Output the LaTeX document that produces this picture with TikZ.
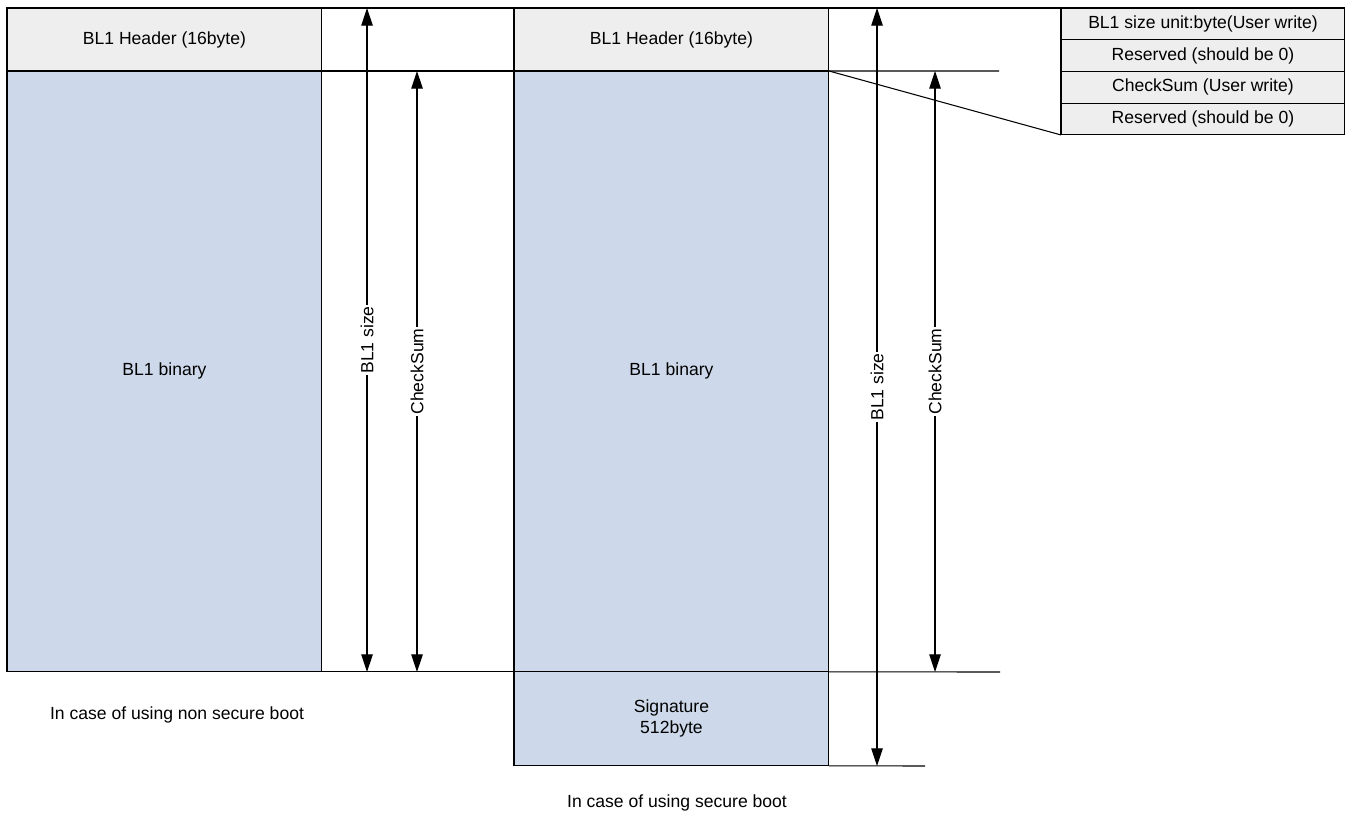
\documentclass[tikz,border=0pt]{standalone}
\usepackage{fontspec}
\setmainfont{Liberation Sans}
\usetikzlibrary{positioning, arrows.meta}
\definecolor{hdrgray}{HTML}{EEEEEE}
\definecolor{binblue}{HTML}{CDD9EA}

\begin{document}
\begin{tikzpicture}[x=0.02cm, y=-0.02cm,
    line width=0.6pt,
    >={Triangle[length=10pt, width=6.5pt]},
    node distance=0,
    font=\fontsize{10}{12}\selectfont,
    hdrbox/.style={draw, fill=hdrgray, inner sep=0, outer sep=0,
        minimum width=6.3cm, minimum height=1.26cm},
    binbox/.style={draw, fill=binblue, inner sep=0, outer sep=0,
        minimum width=6.3cm, minimum height=12.02cm},
    rowbox/.style={draw, fill=hdrgray, inner sep=0, outer sep=0,
        minimum width=5.68cm, minimum height=0.635cm},
    sizelabel/.style={fill=white, rotate=90, inner sep=1pt}
]
    \useasboundingbox (0,0) rectangle (1351,817);

    % non secure boot
    \node [hdrbox, anchor=north west] (hdrA) at (7,8) {BL1 Header (16byte)};
    \node [binbox, below=of hdrA] (binA) {BL1 binary};

    % secure boot
    \node [hdrbox, anchor=north west] (hdrB) at (514,8) {BL1 Header (16byte)};
    \node [binbox, below=of hdrB] (binB) {BL1 binary};
    \node [draw,
        fill=binblue,
        inner sep=0,
        outer sep=0,
        minimum width=6.3cm,
        minimum height=1.88cm,
        below=of binB,
        align=center
    ] (sig) {Signature\\512byte};

    % header layout
    \node [rowbox, anchor=north west] (row1) at (1061,8) {BL1 size unit:byte(User write)};
    \node [rowbox, below=of row1] (row2) {Reserved (should be 0)};
    \node [rowbox, below=of row2] (row3) {CheckSum (User write)};
    \node [rowbox, below=of row3] (row4) {Reserved (should be 0)};

    % captions
    \node (capA) at (177,715) {In case of using non secure boot};
    \node (capB) at (677,803) {In case of using secure boot};

    % guide lines
    \coordinate (midEnd) at (999,71);
    \coordinate (botEnd) at (1000,672);
    \coordinate (sigEnd) at (925,766);
    \draw (hdrA.north east) -- (row1.north west);
    \draw (hdrA.south east) -- (hdrB.south west);
    \draw (hdrB.south east) -- (midEnd);
    \draw (binA.south east) -- (binB.south west);
    \draw (binB.south east) -- (botEnd);
    \draw (sig.south east) -- (sigEnd);
    \draw (hdrB.south east) -- (row4.south west);

    % size arrows
    \coordinate (sizeAtop) at (367,8);
    \coordinate (sizeAbot) at (367,672);
    \coordinate (sumAtop) at (417,71);
    \coordinate (sumAbot) at (417,672);
    \coordinate (sizeBtop) at (877,8);
    \coordinate (sizeBbot) at (877,766);
    \coordinate (sumBtop) at (935,71);
    \coordinate (sumBbot) at (935,672);
    \draw [<->] (sizeAtop) -- node [sizelabel] {BL1 size} (sizeAbot);
    \draw [<->] (sumAtop) -- node [sizelabel] {CheckSum} (sumAbot);
    \draw [<->] (sizeBtop) -- node [sizelabel] {BL1 size} (sizeBbot);
    \draw [<->] (sumBtop) -- node [sizelabel] {CheckSum} (sumBbot);

\end{tikzpicture}
\end{document}
